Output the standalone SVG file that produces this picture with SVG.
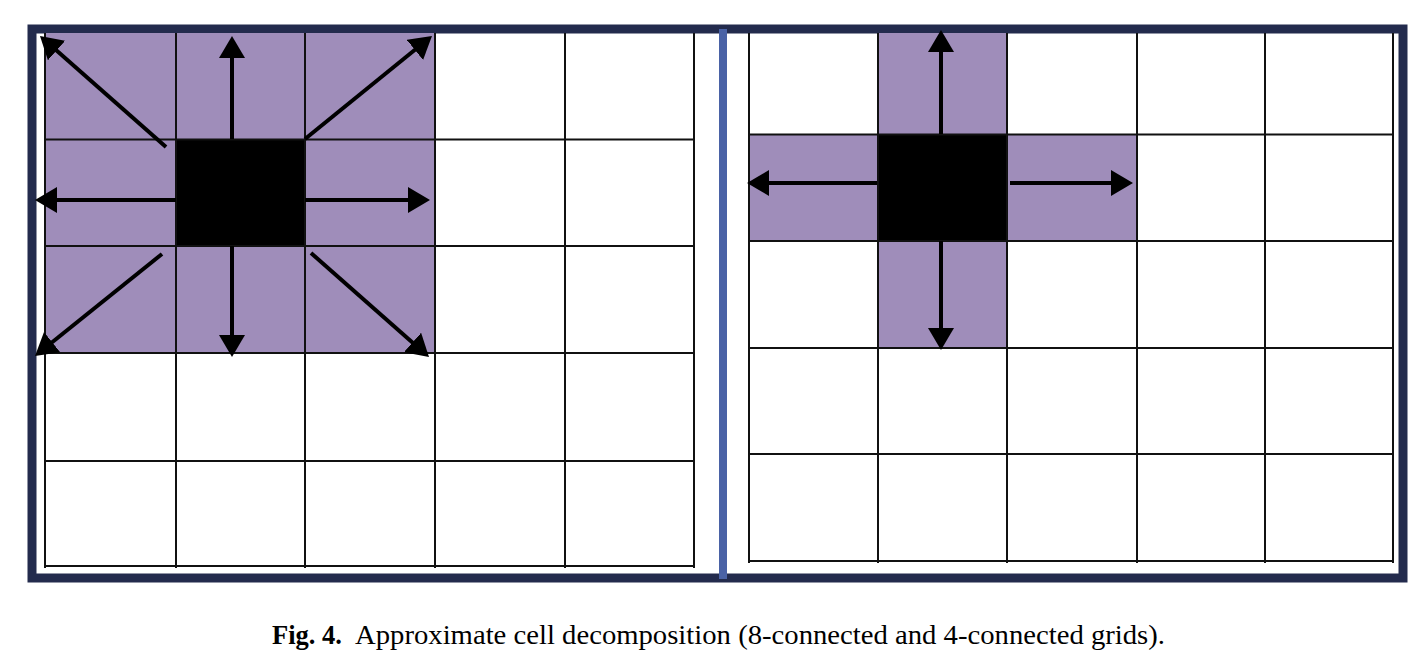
<svg xmlns="http://www.w3.org/2000/svg" width="1424" height="666" viewBox="0 0 1424 666">
  <style>
    .grid { stroke: #111; stroke-width: 2; fill: none; }
    .cell { fill: #9f8dba; }
    .blk { fill: #000; }
    .arr { stroke: #000; stroke-width: 4; fill: none; marker-end: url(#head); }
    .cap { font-family: "Liberation Serif", "DejaVu Serif", serif; font-size: 26.5px; fill: #000; }
  </style>
  <defs>
    <marker id="head" markerUnits="userSpaceOnUse" viewBox="0 0 22 26" markerWidth="22" markerHeight="26" refX="12" refY="13" orient="auto">
      <path d="M0,0 L22,13 L0,26 z" fill="#000"/>
    </marker>
  </defs>
  <rect width="1424" height="666" fill="#fff"/>

  <g id="frame">
    <rect x="32" y="29" width="1371" height="549" fill="none" stroke="#232b4d" stroke-width="9"/>
    <rect x="719" y="29" width="8" height="550" fill="#4a62a6"/>
  </g>

  <g id="grid-8-connected">
    <rect class="cell" x="45" y="33" width="390" height="320"/>
    <rect class="blk" x="176" y="139" width="129" height="107"/>
    <path class="grid" d="M45,139.5H694 M45,246H694 M45,353H694 M45,461H694 M45,566H694 M45,33V568 M176,33V568 M305,33V568 M435,33V568 M565,33V568 M694,33V568"/>
  </g>

  <g id="grid-4-connected">
    <rect class="cell" x="878" y="33" width="129" height="315"/>
    <rect class="cell" x="749" y="134" width="388" height="107"/>
    <rect class="blk" x="877" y="134" width="130" height="107"/>
    <path class="grid" d="M749,134.5H1393 M749,241H1393 M749,348H1393 M749,454H1393 M749,561H1393 M749,33V563 M878,33V563 M1007,33V563 M1137,33V563 M1265,33V563 M1393,33V563"/>
  </g>

  <g id="connectors">
    <line class="arr" x1="232" y1="139" x2="232" y2="46"/>
    <line class="arr" x1="232" y1="246" x2="232" y2="347"/>
    <line class="arr" x1="176" y1="200" x2="45" y2="200"/>
    <line class="arr" x1="305" y1="200" x2="420" y2="200"/>
    <line class="arr" x1="166" y1="147" x2="47.5" y2="42.6"/>
    <line class="arr" x1="305" y1="139" x2="424.2" y2="42.3"/>
    <line class="arr" x1="162" y1="254" x2="42.8" y2="349.7"/>
    <line class="arr" x1="311" y1="253" x2="421.5" y2="350.4"/>
    <line class="arr" x1="941" y1="134" x2="941" y2="40"/>
    <line class="arr" x1="941" y1="241" x2="941" y2="340"/>
    <line class="arr" x1="877" y1="183" x2="757" y2="183"/>
    <line class="arr" x1="1010" y1="183" x2="1123" y2="183"/>
  </g>

  <g id="caption">
    <text class="cap" x="272" y="644" font-weight="bold" textLength="70" lengthAdjust="spacingAndGlyphs">Fig. 4.</text>
    <text class="cap" x="355" y="644" textLength="810" lengthAdjust="spacingAndGlyphs">Approximate cell decomposition (8-connected and 4-connected grids).</text>
  </g>
</svg>
